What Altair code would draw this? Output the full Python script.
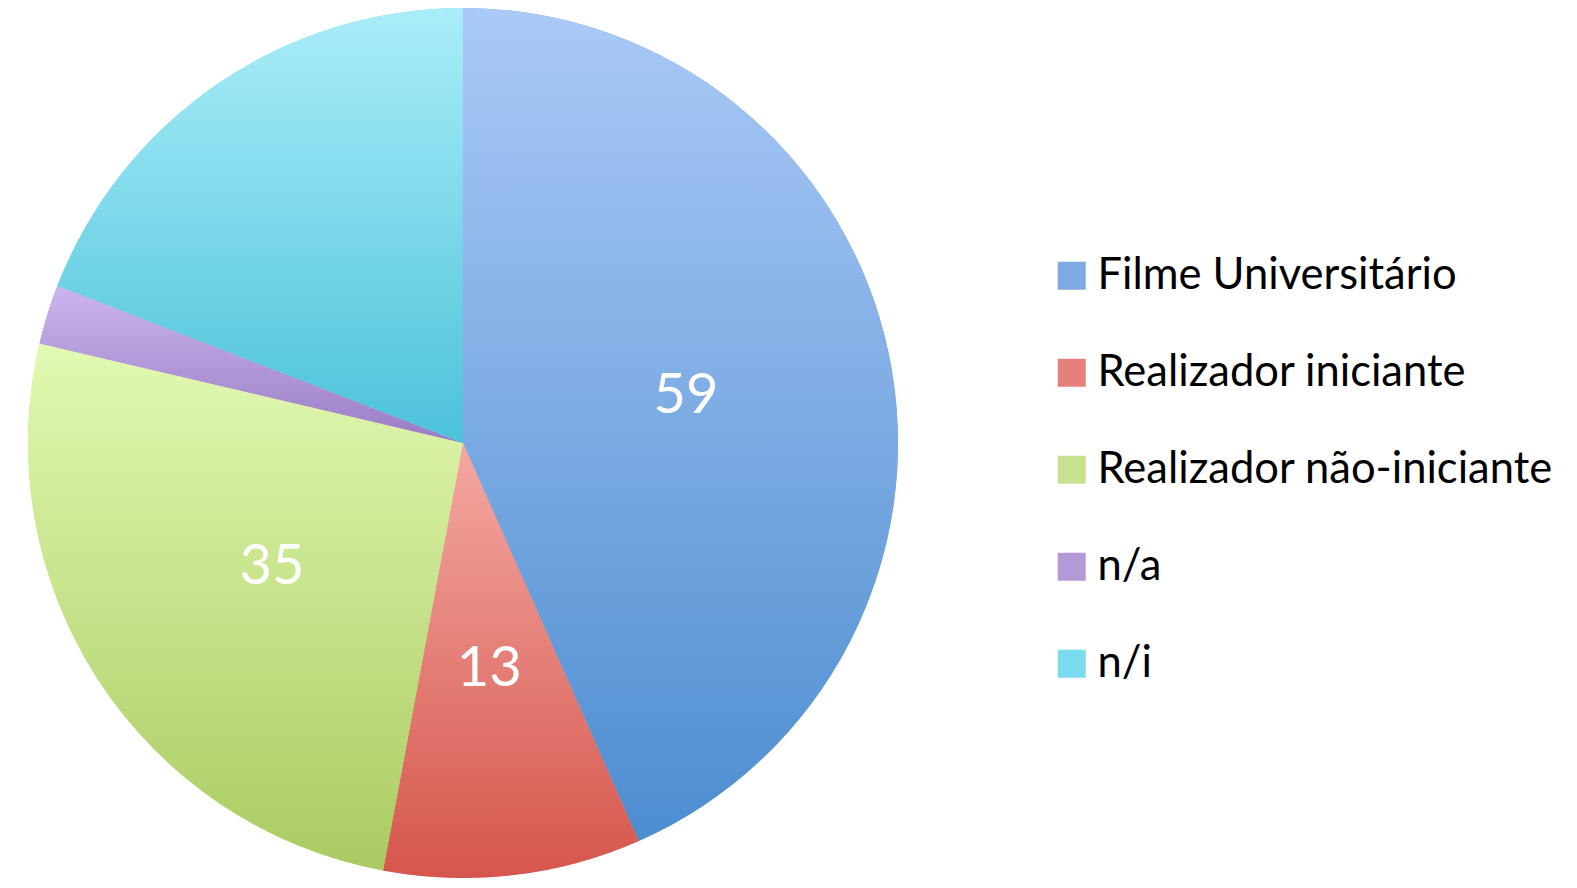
import altair as alt
import pandas as pd

categories = ["Filme Universitário", "Realizador iniciante", "Realizador não-iniciante", "n/a", "n/i"]
values = [59, 13, 35, 3, 26]
labels = ["59", "13", "35", "", ""]
mid_colors = ["#7eaae3", "#e6807a", "#c8e38f", "#b39ad6", "#7adaee"]
top_colors = ["#aac9f6", "#f4a8a2", "#e2f9b2", "#cbb5ee", "#aaedf8"]
bottom_colors = ["#4d8dd0", "#d5564c", "#aacb62", "#9a7cc4", "#4cc2da"]

df = pd.DataFrame({"cat": categories, "val": values, "lab": labels, "order": list(range(len(categories)))})
total = sum(values)

R = 435
theta_scale = alt.Scale(domain=[0, total])

cum = alt.Chart(df).transform_window(
    end="sum(val)", sort=[alt.SortField("order")], frame=[None, 0]
).transform_calculate(start="datum.end - datum.val")

pie = cum.mark_arc(outerRadius=R, stroke=None).encode(
    theta=alt.Theta("start:Q", scale=theta_scale),
    theta2="end:Q",
    color=alt.Color(
        "cat:N",
        scale=alt.Scale(domain=categories, range=mid_colors),
        sort=categories,
        legend=alt.Legend(
            title=None,
            orient="none",
            legendX=1028,
            legendY=241,
            symbolType="square",
            symbolSize=784,
            symbolStrokeWidth=0,
            labelFontSize=43.5,
            labelFont="Lato",
            labelColor="#000000",
            labelOffset=4,
            rowPadding=52,
            labelLimit=700,
        ),
    ),
)

grad_layers = []
for cat, top, bot in zip(categories, top_colors, bottom_colors):
    grad_layers.append(
        cum.transform_filter(alt.datum.cat == cat).mark_arc(
            outerRadius=R,
            fill=alt.Gradient(
                gradient="linear",
                x1=0, y1=0, x2=0, y2=1,
                stops=[
                    alt.GradientStop(color=top, offset=0),
                    alt.GradientStop(color=bot, offset=1),
                ],
            ),
        ).encode(
            theta=alt.Theta("start:Q", scale=theta_scale),
            theta2="end:Q",
        )
    )

text = cum.mark_text(radius=228, fontSize=56, font="Lato", color="white").encode(
    theta=alt.Theta("mid:Q", scale=theta_scale),
    text="lab:N",
).transform_calculate(mid="(datum.start + datum.end) / 2")

chart = alt.layer(pie, *grad_layers, text).properties(
    width=882,
    height=860,
    padding={"left": 14, "top": 0, "right": 0, "bottom": 0},
).configure_view(stroke=None)

chart.save("out.html", embed_options={"renderer": "svg", "actions": False})
